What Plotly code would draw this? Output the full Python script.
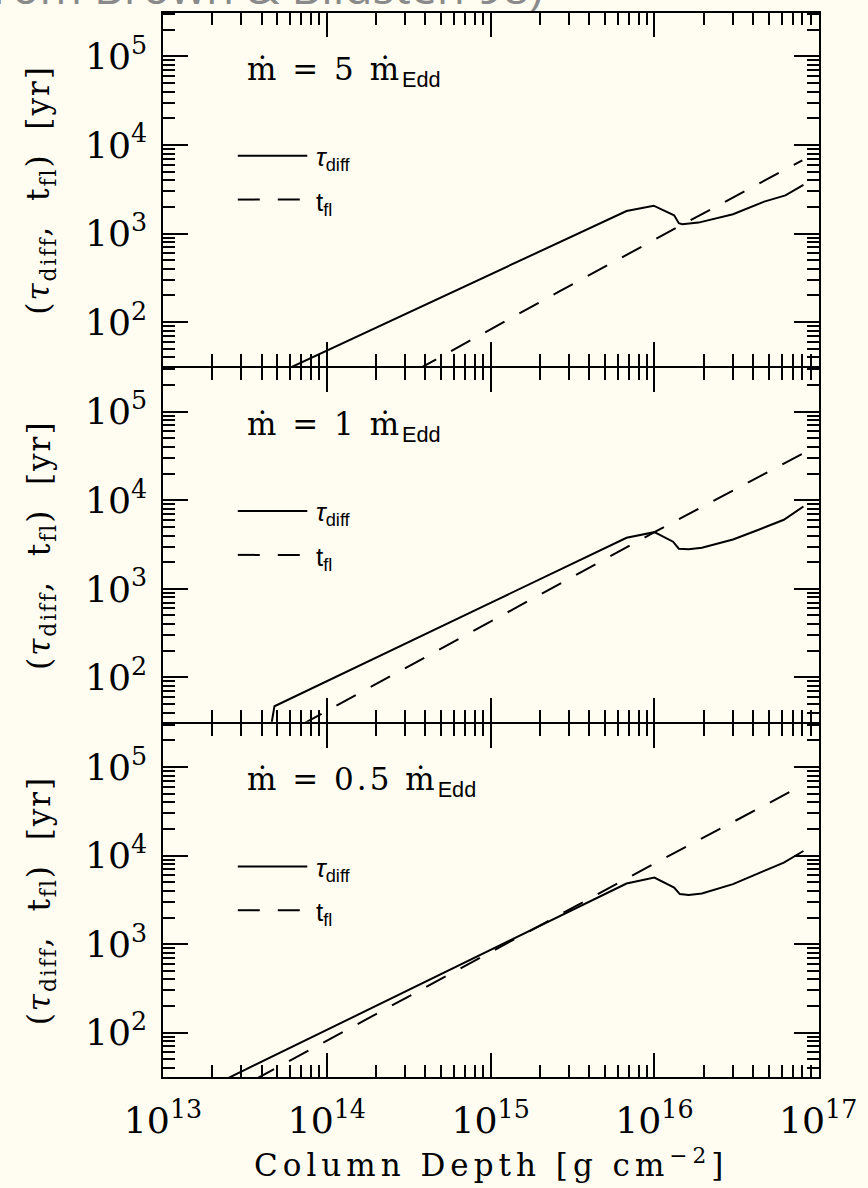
import plotly.graph_objects as go
from plotly.subplots import make_subplots

# ---------------- data ----------------
# Column depth [g cm^-2]  and  times [yr]
rates = ["5", "1", "0.5"]

top_tau_x = [5.9e13, 1.0e15, 6.76e15, 9.9e15, 1.32e16, 1.41e16, 1.48e16, 1.86e16, 3.02e16, 4.68e16, 6.31e16, 8.13e16]
top_tau_y = [30.2, 343, 1795, 2061, 1607, 1309, 1274, 1327, 1648, 2291, 2692, 3548]
top_tfl_x = [3.55e14, 2.63e15, 1.48e16, 8.0e16]
top_tfl_y = [28.8, 222, 1259, 6700]

mid_tau_x = [4.57e13, 4.79e13, 1.0e15, 6.76e15, 1.0e16, 1.30e16, 1.41e16, 1.62e16, 1.95e16, 3.02e16, 4.37e16, 6.17e16, 8.13e16]
mid_tau_y = [28.2, 47.2, 695, 3776, 4365, 3404, 2838, 2793, 2911, 3614, 4677, 6026, 8511]
mid_tfl_x = [7.08e13, 8.71e14, 1.0e16, 8.13e16]
mid_tfl_y = [29.5, 372, 4365, 34040]

bot_tau_x = [2.45e13, 1.0e15, 6.76e15, 1.0e16, 1.32e16, 1.43e16, 1.62e16, 1.95e16, 3.02e16, 4.68e16, 6.17e16, 8.13e16]
bot_tau_y = [30.2, 863, 4842, 5662, 4365, 3681, 3581, 3741, 4764, 6730, 8318, 11272]
bot_tfl_x = [3.63e13, 3.16e14, 2.0e15, 1.0e16, 8.13e16]
bot_tfl_y = [29.5, 257, 1622, 8128, 63100]

panels = [
    (top_tau_x, top_tau_y, top_tfl_x, top_tfl_y),
    (mid_tau_x, mid_tau_y, mid_tfl_x, mid_tfl_y),
    (bot_tau_x, bot_tau_y, bot_tfl_x, bot_tfl_y),
]

# ---------------- styling ----------------
BG = "#fffdf2"
SERIF = "DejaVu Serif"
SANS = "Liberation Sans"
TICKFONT = dict(family=SERIF, size=29, color="black")
LW = 2

fig = make_subplots(rows=3, cols=1, shared_xaxes=True, vertical_spacing=LW / 1066)

for i, (tx, ty, fx, fy) in enumerate(panels, start=1):
    fig.add_trace(go.Scatter(x=tx, y=ty, mode="lines", line=dict(color="black", width=2),
                             showlegend=False, name="tau_diff"), row=i, col=1)
    fig.add_trace(go.Scatter(x=fx, y=fy, mode="lines",
                             line=dict(color="black", width=2, dash="22px,17px"),
                             showlegend=False, name="t_fl"), row=i, col=1)

axis_common = dict(
    type="log", dtick=1, ticks="inside", tickwidth=2, tickcolor="black",
    mirror="allticks", showline=True, linewidth=LW, linecolor="black",
    showgrid=False, zeroline=False, exponentformat="power",
    tickfont=TICKFONT,
    minor=dict(ticks="inside", ticklen=12, tickwidth=2, tickcolor="black", dtick="D1", showgrid=False),
)

for i in range(1, 4):
    fig.update_xaxes(range=[13, 17.005], ticklen=24, ticklabelstandoff=12, row=i, col=1, **axis_common)
    fig.update_yaxes(range=[1.5, 5.49], ticklen=25, ticklabelstandoff=8, row=i, col=1, **axis_common)

annotations = []
shapes = []
for i, r in enumerate(rates, start=1):
    xs = "x" if i == 1 else f"x{i}"
    ys = "y" if i == 1 else f"y{i}"
    annotations.append(dict(
        xref=f"{xs} domain", yref=f"{ys} domain", x=0.125, y=0.835,
        xanchor="left", yanchor="middle", showarrow=False,
        text=(f"<span style='letter-spacing:3px'>ṁ = {r} ṁ</span>"
              f"<sub><span style='font-family:{SANS}'>Edd</span></sub>"),
        font=dict(family=SERIF, size=31, color="black")))
    # legend samples
    shapes.append(dict(type="line", xref=f"{xs} domain", yref=f"{ys} domain",
                       x0=0.114, x1=0.220, y0=0.596, y1=0.596,
                       line=dict(color="black", width=2)))
    shapes.append(dict(type="line", xref=f"{xs} domain", yref=f"{ys} domain",
                       x0=0.114, x1=0.220, y0=0.472, y1=0.472,
                       line=dict(color="black", width=2, dash="22px,18px")))
    annotations.append(dict(
        xref=f"{xs} domain", yref=f"{ys} domain", x=0.230, y=0.588,
        xanchor="left", yanchor="middle", showarrow=False,
        text="<i>τ</i><sub>diff</sub>", font=dict(family=SANS, size=26, color="black")))
    annotations.append(dict(
        xref=f"{xs} domain", yref=f"{ys} domain", x=0.230, y=0.462,
        xanchor="left", yanchor="middle", showarrow=False,
        text="t<sub>fl</sub>", font=dict(family=SANS, size=26, color="black")))
    # y title for each panel
    annotations.append(dict(
        xref="paper", yref=f"{ys} domain", x=-0.186, y=0.5,
        xanchor="center", yanchor="middle", showarrow=False, textangle=-90,
        text=("<span style='letter-spacing:2px'>(<i>τ</i><sub>diff</sub>,  "
              "t<sub>fl</sub>)  [yr]</span>"),
        font=dict(family=SERIF, size=31, color="black")))

annotations.append(dict(
    xref="paper", yref="paper", x=0.5, y=-0.081, xanchor="center", yanchor="middle",
    showarrow=False,
    text="<span style='letter-spacing:5px'>Column Depth [g cm<sup>−2</sup>]</span>",
    font=dict(family=SERIF, size=31, color="black")))

annotations.append(dict(
    xref="paper", yref="paper", x=0.582, y=1, xanchor="right", yanchor="bottom",
    yshift=-6, showarrow=False, text="(from Brown & Bildsten 98)",
    font=dict(family="Open Sans", size=46, color="#8a8a8a")))

fig.update_layout(
    width=868, height=1188,
    margin=dict(l=163, r=44, t=11, b=111),
    paper_bgcolor=BG, plot_bgcolor=BG,
    annotations=annotations, shapes=shapes,
    showlegend=False,
)

fig.write_html("out.html")
